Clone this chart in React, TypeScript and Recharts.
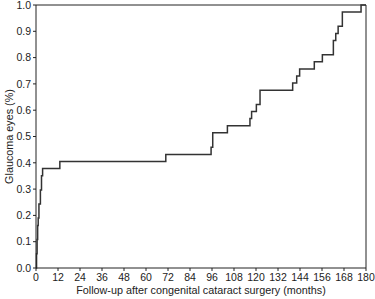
import { LineChart, Line, XAxis, YAxis, ReferenceLine } from 'recharts';

const months = [0, 0.3, 0.6, 0.9, 1.2, 1.6, 2.4, 3.0, 3.6, 13, 70.8, 95.5, 96.4, 104.4, 116.7, 117.6, 120.2, 122.2, 140, 142.2, 143.8, 151.8, 156.2, 162.2, 163.5, 164.8, 167.1, 177.3, 180];
const glaucoma = [0, 0.054, 0.108, 0.162, 0.19, 0.243, 0.297, 0.351, 0.378, 0.405, 0.432, 0.459, 0.514, 0.541, 0.568, 0.595, 0.622, 0.676, 0.703, 0.73, 0.757, 0.784, 0.811, 0.865, 0.892, 0.919, 0.973, 1.0, 1.0];
const xTicks = [0, 12, 24, 36, 48, 60, 72, 84, 96, 108, 120, 132, 144, 156, 168, 180];
const yTicks = [0, 0.1, 0.2, 0.3, 0.4, 0.5, 0.6, 0.7, 0.8, 0.9, 1.0];

const data = months.map((m, i) => ({ m, v: glaucoma[i] }));

const font = 'Liberation Sans, Arial, sans-serif';
const tick = { fontSize: 10.5, fill: '#222', fontFamily: font };

export default function App() {
  return (
    <div style={{ position: 'absolute', left: 0, top: 0, background: '#fff' }}>
      <LineChart width={375} height={299} data={data} margin={{ top: 5, right: 9, bottom: 0, left: 0 }}>
        <XAxis
          dataKey="m"
          type="number"
          domain={[0, 180]}
          ticks={xTicks}
          interval={0}
          height={31}
          tick={{ ...tick, dy: 1 }}
          tickSize={3}
          stroke="#222"
          tickLine={{ stroke: '#222' }}
          label={{ value: 'Follow-up after congenital cataract surgery (months)', position: 'insideBottom', offset: 5, style: { fontSize: 10.8, fill: '#222', fontFamily: font } }}
        />
        <YAxis
          type="number"
          domain={[0, 1]}
          ticks={yTicks}
          interval={0}
          width={36}
          tick={tick}
          tickSize={3}
          stroke="#222"
          tickFormatter={(v: number) => v.toFixed(1)}
          label={{ value: 'Glaucoma eyes (%)', angle: -90, position: 'insideLeft', offset: 9, style: { textAnchor: 'middle', fontSize: 10.8, fill: '#222', fontFamily: font } }}
        />
        <ReferenceLine y={1} stroke="#222" ifOverflow="visible" />
        <ReferenceLine x={180} stroke="#222" ifOverflow="visible" />
        <Line dataKey="v" type="stepAfter" stroke="#333" strokeWidth={1.5} dot={false} isAnimationActive={false} />
      </LineChart>
    </div>
  );
}
